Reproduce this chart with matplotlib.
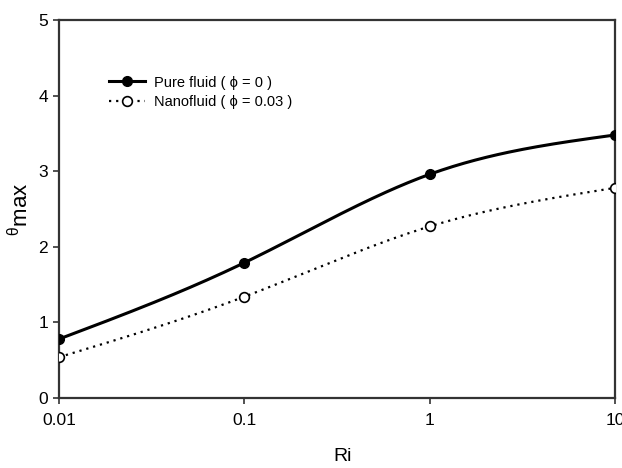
import numpy as np
import matplotlib
matplotlib.use("Agg")
import matplotlib.pyplot as plt
from matplotlib.ticker import FixedLocator, FixedFormatter, NullLocator

plt.rcParams['font.family'] = ['Liberation Sans', 'DejaVu Sans']

ri = [0.01, 0.1, 1, 10]
pure = [0.78, 1.79, 2.96, 3.48]
nano = [0.54, 1.34, 2.27, 2.78]
xticklabels = ['0.01', '0.1', '1', '10']
yticks = [0, 1, 2, 3, 4, 5]


def natural_spline(x, y, n=200):
    x = np.asarray(x, float); y = np.asarray(y, float)
    m = len(x); h = np.diff(x)
    A = np.zeros((m, m)); b = np.zeros(m)
    A[0, 0] = A[-1, -1] = 1
    for i in range(1, m - 1):
        A[i, i - 1] = h[i - 1]; A[i, i] = 2 * (h[i - 1] + h[i]); A[i, i + 1] = h[i]
        b[i] = 3 * ((y[i + 1] - y[i]) / h[i] - (y[i] - y[i - 1]) / h[i - 1])
    c = np.linalg.solve(A, b)
    xs = np.linspace(x[0], x[-1], n); ys = np.empty_like(xs)
    for k, xv in enumerate(xs):
        i = min(np.searchsorted(x, xv, side='right') - 1, m - 2)
        dx = xv - x[i]
        bb = (y[i + 1] - y[i]) / h[i] - h[i] * (2 * c[i] + c[i + 1]) / 3
        d = (c[i + 1] - c[i]) / (3 * h[i])
        ys[k] = y[i] + bb * dx + c[i] * dx ** 2 + d * dx ** 3
    return xs, ys


fig = plt.figure(figsize=(6.22, 4.68), dpi=100)
ax = fig.add_axes([0.0949, 0.1496, 0.8938, 0.8074])

lx = np.log10(ri)
xs, ys = natural_spline(lx, pure)
ax.plot(10 ** xs, ys, color='black', lw=2.2, zorder=2)
xs2, ys2 = natural_spline(lx, nano)
ax.plot(10 ** xs2, ys2, color='black', lw=1.6, ls=(0, (1, 2.2)), zorder=2)
ax.plot(ri, pure, 'o', color='black', ms=7, zorder=3)
ax.plot(ri, nano, 'o', mfc='white', mec='black', mew=1.2, ms=7, zorder=3)

h1, = ax.plot([], [], color='black', lw=2.2, marker='o', ms=7)
h2, = ax.plot([], [], color='black', lw=1.6, ls=(0, (1, 2.2)), marker='o', mfc='white', mec='black', mew=1.2, ms=7)
ax.legend([h1, h2], ['Pure fluid ( \u03d5 = 0 )', 'Nanofluid ( \u03d5 = 0.03 )'],
          loc='upper left', bbox_to_anchor=(0.067, 0.888), frameon=False,
          fontsize=10.5, handlelength=2.45, handletextpad=0.6, labelspacing=0.35)

ax.set_xscale('log')
ax.set_xlim(0.01, 10)
ax.set_ylim(0, 5)
ax.xaxis.set_major_locator(FixedLocator(ri))
ax.xaxis.set_major_formatter(FixedFormatter(xticklabels))
ax.xaxis.set_minor_locator(NullLocator())
ax.set_yticks(yticks)
ax.tick_params(direction='out', length=4, width=1.2, labelsize=12.5, color='#333333')
ax.tick_params(axis='x', pad=7)
ax.tick_params(axis='y', pad=4)
for s in ax.spines.values():
    s.set_linewidth(1.6)
    s.set_color('#333333')

ax.set_xlabel('Ri', fontsize=14)
ax.xaxis.set_label_coords(0.51, -0.133)
ax.set_ylabel('$^{\\mathregular{\u03b8}}\\mathregular{max}$', fontsize=16)
ax.yaxis.set_label_coords(-0.046, 0.5)

fig.savefig('out.png', dpi=100)
